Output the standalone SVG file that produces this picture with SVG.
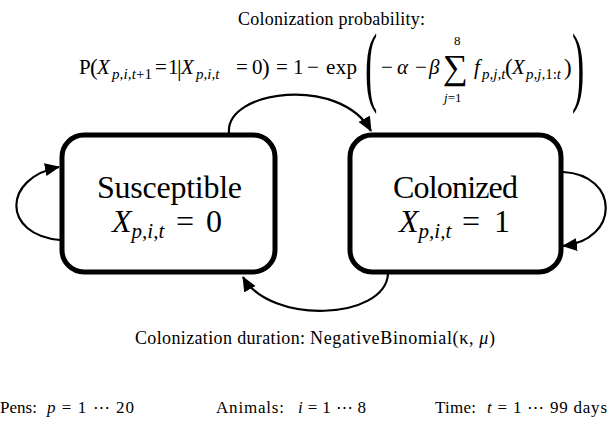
<svg xmlns="http://www.w3.org/2000/svg" width="609" height="428" viewBox="0 0 609 428">
<style>
.t{font-family:"Liberation Serif","Times New Roman",serif;fill:#000}
.m{font-family:"Liberation Serif","Times New Roman",serif;fill:#000}
.i{font-style:italic}
.box{fill:#fff;stroke:#000;stroke-width:5}
.con{fill:none;stroke:#000;stroke-width:2.2}
</style>
<defs>
<marker id="ah" markerUnits="userSpaceOnUse" markerWidth="18" markerHeight="14" refX="14" refY="6.5" orient="auto">
<path d="M0,0 L15,6.5 L0,13 z" fill="#000"/>
</marker>
</defs>
<rect width="609" height="428" fill="#fff"/>

<text class="t" x="238" y="25" font-size="18" textLength="187">Colonization probability:</text>

<g id="formula" class="m" font-size="21">
<text x="79" y="74">P</text>
<text x="90" y="75" font-size="23">(</text>
<text x="97" y="74" class="i">X</text>
<text x="112" y="79" font-size="15" class="i" textLength="40">p,i,t<tspan font-style="normal">+1</tspan></text>
<text x="155" y="74">=</text>
<text x="168" y="74">1</text>
<text x="177" y="76" font-size="23">|</text>
<text x="181" y="74" class="i">X</text>
<text x="196" y="79" font-size="15" class="i">p,i,t</text>
<text x="236" y="74">=</text>
<text x="252" y="74">0</text>
<text x="262" y="75" font-size="23">)</text>
<text x="276" y="74">=</text>
<text x="293" y="74">1</text>
<text x="307" y="74">−</text>
<text x="326" y="74" textLength="31">exp</text>
<text transform="translate(365,95) scale(0.42,1)" font-size="88">(</text>
<text x="381" y="74">−</text>
<text x="397" y="74" class="i">α</text>
<text x="415" y="74">−</text>
<text x="429" y="74" class="i">β</text>
<text x="443" y="79" font-size="35">∑</text>
<text x="454" y="45" font-size="13">8</text>
<text x="444" y="102" font-size="13"><tspan font-style="italic">j</tspan>=1</text>
<text x="474" y="74" class="i">f</text>
<text x="482" y="79" font-size="15" class="i">p,j,t</text>
<text x="505" y="75" font-size="23">(</text>
<text x="512" y="74" class="i">X</text>
<text x="526" y="79" font-size="15" class="i">p,j,<tspan font-style="normal">1:</tspan>t</text>
<text x="564" y="75" font-size="23">)</text>
<text transform="translate(572,95) scale(0.42,1)" font-size="88">)</text>
</g>

<g id="susceptible">
<rect class="box" x="62" y="135" width="213" height="137" rx="22"/>
<text class="t" x="97" y="198" font-size="32" textLength="145">Susceptible</text>
<text class="t" x="112" y="232" font-size="32"><tspan font-style="italic">X</tspan><tspan font-size="21" font-style="italic" dy="6">p,i,t</tspan><tspan dy="-6" x="176">=</tspan><tspan x="206">0</tspan></text>
</g>

<g id="colonized">
<rect class="box" x="350" y="135" width="211" height="137" rx="22"/>
<text class="t" x="393" y="198" font-size="32" textLength="125">Colonized</text>
<text class="t" x="399" y="232" font-size="32"><tspan font-style="italic">X</tspan><tspan font-size="21" font-style="italic" dy="6">p,i,t</tspan><tspan dy="-6" x="462">=</tspan><tspan x="494">1</tspan></text>
</g>

<g id="connectors">
<path class="con" d="M229,133 C225,90 340,75 371,131" marker-end="url(#ah)"/>
<path class="con" d="M388,274 C385,320 270,325 243,277" marker-end="url(#ah)"/>
<path class="con" d="M60,240 C2,235 2,178 59,167" marker-end="url(#ah)"/>
<path class="con" d="M563,172 C620,175 620,240 563,246" marker-end="url(#ah)"/>
</g>

<text class="t" x="135" y="344" font-size="18" textLength="170">Colonization duration:</text>
<text class="m" x="310" y="344" font-size="18" textLength="185">NegativeBinomial(κ, <tspan font-style="italic">μ</tspan>)</text>

<g id="legend" font-size="17">
<text class="t" x="0" y="413" textLength="37">Pens:</text>
<text class="m" x="47" y="413" textLength="87"><tspan font-style="italic">p</tspan> = 1 ⋯ 20</text>
<text class="t" x="216" y="413" textLength="68">Animals:</text>
<text class="m" x="298" y="413" textLength="68"><tspan font-style="italic">i</tspan> = 1 ⋯ 8</text>
<text class="t" x="435" y="413" textLength="41">Time:</text>
<text class="m" x="487" y="413" textLength="120"><tspan font-style="italic">t</tspan> = 1 ⋯ 99 days</text>
</g>
</svg>
